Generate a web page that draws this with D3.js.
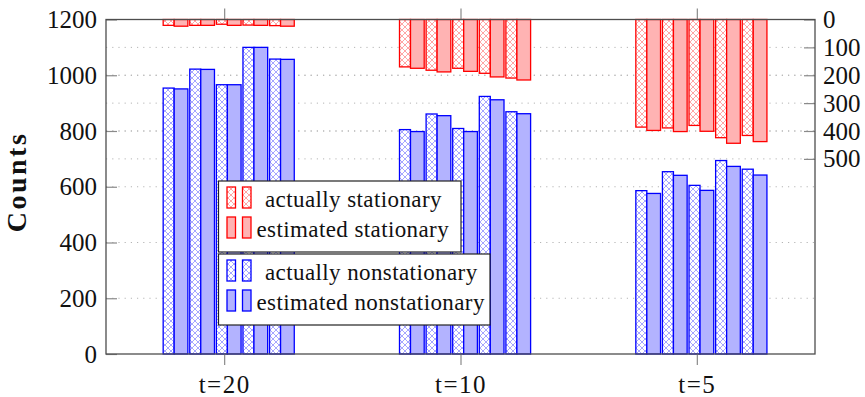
<!DOCTYPE html>
<html>
<head>
<meta charset="utf-8">
<script src="https://cdn.jsdelivr.net/npm/d3@7"></script>
<style>
  html, body { margin: 0; padding: 0; background: #fff; }
  svg { display: block; font-family: "Liberation Serif", "DejaVu Serif", serif; }
</style>
</head>
<body>
<svg id="chart" width="865" height="397"></svg>
<script>
// Horizon categories
const categories = ["t=20", "t=10", "t=5"];

// Nonstationary counts (left axis), five runs per horizon
const actuallyNonstationary = [
  [954, 1022, 966, 1100, 1058],
  [805, 861, 809, 924, 869],
  [586, 654, 605, 694, 663]
];
const estimatedNonstationary = [
  [951, 1021, 966, 1100, 1057],
  [798, 855, 798, 912, 862],
  [576, 641, 587, 673, 642]
];

// Stationary counts (right axis, hanging from the top)
const actuallyStationary = [
  [21, 21, 17, 20, 22],
  [170, 182, 175, 193, 210],
  [386, 389, 380, 424, 416]
];
const estimatedStationary = [
  [24, 21, 21, 21, 24],
  [175, 188, 186, 206, 217],
  [398, 402, 401, 444, 438]
];

// Axis ticks
const leftTicks = [0, 200, 400, 600, 800, 1000, 1200];
const rightTicks = [0, 100, 200, 300, 400, 500];

const legendStationary = ["actually stationary", "estimated stationary"];
const legendNonstationary = ["actually nonstationary", "estimated nonstationary"];

// ---------------------------------------------------------------
const svg = d3.select("#chart");
const L = 106, R = 815, T = 19.5, B = 354;

const blue = "#0000ff", blueFill = "#b3b3ff", blueHatch = "#a6a6ff";
const red = "#ff0000", redFill = "#ffb3b3", redHatch = "#ffa6a6";

const x = d3.scalePoint().domain(categories).range([L, R]).padding(0.5);
const yLeft = d3.scaleLinear().domain([0, 1200]).range([B, T]);
const yRight = d3.scaleLinear().domain([0, 1200]).range([T, B]);

// offset of each run's bar pair relative to the category position
const pairX = d3.scaleLinear().domain([0, 4]).range([-61, -61 + 4 * 26.6]);
const hatchW = 11, solidW = 13.7;

// crosshatch patterns
const defs = svg.append("defs");
function hatch(id, color) {
  const p = defs.append("pattern").attr("id", id)
    .attr("patternUnits", "userSpaceOnUse").attr("width", 6).attr("height", 6);
  p.append("rect").attr("width", 6).attr("height", 6).attr("fill", "#fff");
  p.append("path").attr("d", "M0,0L6,6M0,6L6,0M-1,1L1,-1M5,7L7,5M-1,5L1,7M5,-1L7,1")
    .attr("stroke", color).attr("stroke-width", 1).attr("fill", "none");
}
hatch("hatchBlue", blueHatch);
hatch("hatchRed", redHatch);

// grid lines
const grid = svg.append("g").attr("stroke", "#b5b5b5").attr("stroke-width", 1)
  .attr("stroke-dasharray", "1.2,5");
grid.selectAll("line.gl").data(leftTicks.slice(1, -1)).join("line")
  .attr("x1", L).attr("x2", R)
  .attr("y1", d => yLeft(d)).attr("y2", d => yLeft(d));
grid.selectAll("line.gr").data(rightTicks.slice(1)).join("line")
  .attr("x1", L).attr("x2", R)
  .attr("y1", d => yRight(d)).attr("y2", d => yRight(d));

// flatten a series into bar records
function flat(series) {
  const out = [];
  series.forEach((runs, ci) => runs.forEach((v, k) => out.push({ cat: categories[ci], k, v })));
  return out;
}

const bars = svg.append("g");
function drawBars(series, up, fill, stroke, offset, width) {
  bars.append("g").selectAll("rect").data(flat(series)).join("rect")
    .attr("x", d => x(d.cat) + pairX(d.k) + offset)
    .attr("width", width)
    .attr("y", d => up ? yLeft(d.v) : yRight(0))
    .attr("height", d => up ? yLeft(0) - yLeft(d.v) : yRight(d.v) - yRight(0))
    .attr("fill", fill).attr("stroke", stroke).attr("stroke-width", 1.3);
}
drawBars(actuallyNonstationary, true, "url(#hatchBlue)", blue, 0, hatchW);
drawBars(estimatedNonstationary, true, blueFill, blue, hatchW, solidW);
drawBars(actuallyStationary, false, "url(#hatchRed)", red, 0, hatchW);
drawBars(estimatedStationary, false, redFill, red, hatchW, solidW);

// axes
const axisColor = "#4d4d4d", tickColor = "#8a8a8a";
const fmt = d3.format("d");
const gl = svg.append("g").attr("transform", `translate(${L},0)`)
  .call(d3.axisLeft(yLeft).tickValues(leftTicks).tickFormat(fmt).tickSize(-11).tickPadding(20));
const gr = svg.append("g").attr("transform", `translate(${R},0)`)
  .call(d3.axisRight(yRight).tickValues(rightTicks).tickFormat(fmt).tickSize(-11).tickPadding(20));
const gb = svg.append("g").attr("transform", `translate(0,${B})`)
  .call(d3.axisBottom(x).tickSize(11).tickPadding(14));
const gt = svg.append("g").attr("transform", `translate(0,${T})`)
  .call(d3.axisTop(x).tickSize(11).tickFormat(""));

[gl, gr, gb, gt].forEach(g => {
  g.select(".domain").remove();
  g.selectAll(".tick line").attr("stroke", tickColor).attr("stroke-width", 1.2);
  g.selectAll("text").attr("font-family", "Liberation Serif, serif")
    .attr("font-size", 25).attr("fill", "#111");
});
gl.selectAll("text").attr("x", -9);
gr.selectAll("text").attr("x", 8);
gb.selectAll("text").attr("dy", "0.75em").attr("y", 20).attr("letter-spacing", 1.5);

// frame
svg.append("rect").attr("x", L).attr("y", T).attr("width", R - L).attr("height", B - T)
  .attr("fill", "none").attr("stroke", axisColor).attr("stroke-width", 1.3);

// y-axis title
svg.append("text")
  .attr("transform", "translate(26,182) rotate(-90)")
  .attr("text-anchor", "middle")
  .attr("font-family", "Liberation Serif, serif")
  .attr("font-weight", "bold").attr("font-size", 28).attr("letter-spacing", 2.5)
  .attr("fill", "#111")
  .text("Counts");

// legends
function legend(labels, top, width, stroke, fill, hatchId) {
  const g = svg.append("g");
  g.append("rect").attr("x", 218.5).attr("y", top).attr("width", width).attr("height", 71)
    .attr("fill", "#fff").attr("stroke", "#222").attr("stroke-width", 1.2);
  const rows = [
    { label: labels[0], fill: `url(#${hatchId})`, base: top + 26, tx: 265 },
    { label: labels[1], fill: fill, base: top + 56, tx: 256.5 }
  ];
  rows.forEach(r => {
    [227, 242.5].forEach(ix => {
      g.append("rect").attr("x", ix).attr("y", r.base - 20).attr("width", 8.5).attr("height", 21)
        .attr("fill", r.fill).attr("stroke", stroke).attr("stroke-width", 1.3);
    });
    g.append("text").attr("x", r.tx).attr("y", r.base)
      .attr("font-family", "Liberation Serif, serif").attr("font-size", 23)
      .attr("letter-spacing", 0.4).attr("fill", "#111")
      .text(r.label);
  });
}
legend(legendStationary, 181, 242.5, red, redFill, "hatchRed");
legend(legendNonstationary, 254, 271.5, blue, blueFill, "hatchBlue");
</script>
</body>
</html>
